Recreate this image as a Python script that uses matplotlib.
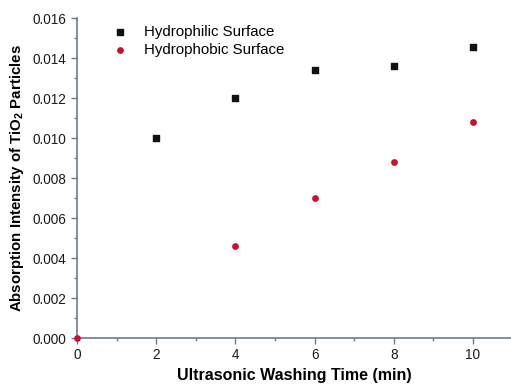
import matplotlib
matplotlib.use('Agg')
import matplotlib.pyplot as plt
from matplotlib.ticker import MultipleLocator

plt.rcParams['font.family'] = ['Liberation Sans', 'DejaVu Sans']
plt.rcParams['mathtext.fontset'] = 'custom'
plt.rcParams['mathtext.rm'] = 'Liberation Sans'
plt.rcParams['mathtext.bf'] = 'Liberation Sans:bold'

# data
philic_time = [2, 4, 6, 8, 10]
philic_abs = [0.0100, 0.0120, 0.0134, 0.0136, 0.01455]
phobic_time = [0, 4, 6, 8, 10]
phobic_abs = [0.0, 0.0046, 0.0070, 0.0088, 0.0108]

axis_col = '#6f7c88'

fig = plt.figure(figsize=(5.11, 3.85), dpi=100)
ax = fig.add_axes([0.151, 0.122, 0.849, 0.831])

ax.scatter(philic_time, philic_abs, marker='s', s=14, color='#111111',
           label='Hydrophilic Surface', clip_on=False, zorder=3)
ax.scatter(phobic_time, phobic_abs, marker='o', s=15, color='#c8102e',
           label='Hydrophobic Surface', clip_on=False, zorder=4)

ax.set_xlim(0, 10.96)
ax.set_ylim(0, 0.016)
ax.xaxis.set_major_locator(MultipleLocator(2))
ax.xaxis.set_minor_locator(MultipleLocator(1))
ax.yaxis.set_major_locator(MultipleLocator(0.002))
ax.yaxis.set_minor_locator(MultipleLocator(0.001))
ax.yaxis.set_major_formatter(plt.FuncFormatter(lambda v, p: f'{v:.3f}'))

for s in ['top', 'right']:
    ax.spines[s].set_visible(False)
for s in ['left', 'bottom']:
    ax.spines[s].set_color(axis_col)
    ax.spines[s].set_linewidth(1.2)
ax.tick_params(which='both', direction='out', color=axis_col, width=1.0,
               labelsize=9.8, labelcolor='#1a1a1a')
ax.tick_params(which='major', length=4)
ax.tick_params(which='minor', length=2.5)

ax.set_xlabel('Ultrasonic Washing Time (min)', fontsize=11.5, fontweight='bold', labelpad=4)
ax.set_ylabel(r'Absorption Intensity of TiO$_\mathbf{2}$ Particles', fontsize=10.8,
              fontweight='bold', labelpad=5)

ax.legend(loc='upper left', bbox_to_anchor=(0.034, 1.022), frameon=False, fontsize=10.8,
          handletextpad=0.6, labelspacing=0.3, markerscale=1.0)

fig.savefig('out.png', dpi=100)
